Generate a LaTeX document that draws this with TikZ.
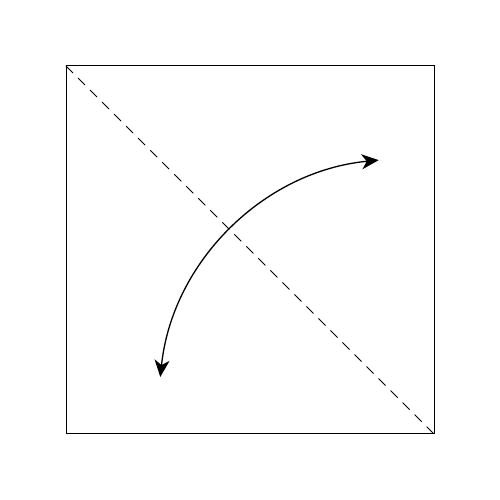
\documentclass[tikz,border=0pt]{standalone}
\usetikzlibrary{arrows.meta,calc}
\begin{document}
\begin{tikzpicture}[x=1pt,y=1pt,
  frame/.style={line width=1pt},
  diag/.style={line width=0.9pt,dash pattern=on 10pt off 7pt},
  swing/.style={line width=1.3pt,{Stealth[length=17pt,width=15pt,inset=5pt]}-{Stealth[length=17pt,width=15pt,inset=5pt]}}]
\useasboundingbox (0,0) rectangle (500,500);
\coordinate (tl) at (66,434);
\coordinate (br) at (434,66);
\draw[frame] (66,66) rectangle (434,434);
\draw[diag] (tl) -- (br);
\coordinate (c) at (402,98);
\coordinate (s) at ($(c)+(174.1:243)$);
\draw[swing] (s) arc[start angle=174.1, end angle=95.5, radius=243];
\end{tikzpicture}
\end{document}
